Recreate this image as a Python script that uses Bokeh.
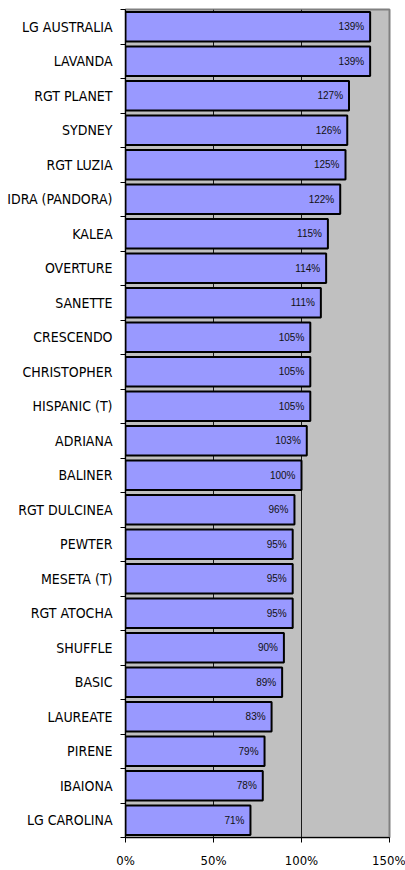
from bokeh.plotting import figure
from bokeh.models import ColumnDataSource, Range1d, FixedTicker, CustomJSTickFormatter, PrintfTickFormatter
from bokeh.core.properties import value
from bokeh.embed import file_html
from bokeh.resources import INLINE

varieties = ["LG AUSTRALIA", "LAVANDA", "RGT PLANET", "SYDNEY", "RGT LUZIA",
             "IDRA (PANDORA)", "KALEA", "OVERTURE", "SANETTE", "CRESCENDO",
             "CHRISTOPHER", "HISPANIC (T)", "ADRIANA", "BALINER", "RGT DULCINEA",
             "PEWTER", "MESETA (T)", "RGT ATOCHA", "SHUFFLE", "BASIC",
             "LAUREATE", "PIRENE", "IBAIONA", "LG CAROLINA"]
yields = [139, 139, 127, 126, 125, 122, 115, 114, 111, 105, 105, 105, 103, 100,
          96, 95, 95, 95, 90, 89, 83, 79, 78, 71]
x_ticks = [0, 50, 100, 150]

n = len(varieties)
ypos = [n - i - 0.5 for i in range(n)]
labels = [f"{v}%" for v in yields]
src = ColumnDataSource(dict(name=varieties, y=ypos, v=yields, lab=labels))

FONT = "DejaVu Sans Condensed, Liberation Sans"

p = figure(width=405, height=870, x_range=Range1d(0, 150), y_range=Range1d(0, n),
           output_backend="svg", toolbar_location=None,
           min_border_left=125, min_border_right=16, min_border_top=9, min_border_bottom=32)
p.border_fill_color = "white"
p.background_fill_color = "#C0C0C0"
p.outline_line_color = "#808080"
p.outline_line_width = 2

p.hbar(y="y", right="v", left=0, height=0.85, fill_color="#9999FF",
       line_color="black", line_width=2, source=src)
p.text(x="v", y="y", text="lab", x_offset=-6, text_align="right", text_baseline="middle",
       text_font=value("Liberation Sans"), text_font_size="10px", text_color="#111111", source=src)

p.ygrid.visible = False
p.xgrid.ticker = FixedTicker(ticks=x_ticks)
p.xgrid.grid_line_color = "#1a1a1a"
p.xgrid.grid_line_width = 1

xa = p.xaxis[0]
xa.ticker = FixedTicker(ticks=x_ticks)
xa.formatter = PrintfTickFormatter(format="%d%%")
xa.major_tick_in = 0
xa.major_tick_out = 5
xa.minor_tick_line_color = None
xa.major_label_standoff = 10
xa.axis_line_color = "black"
xa.major_tick_line_color = "black"
xa.major_label_text_font = FONT
xa.major_label_text_font_size = "13px"
xa.major_label_text_color = "black"

ya = p.yaxis[0]
ya.ticker = FixedTicker(ticks=ypos, minor_ticks=list(range(n + 1)))
ya.formatter = CustomJSTickFormatter(args=dict(names=varieties),
                                     code="return names[names.length - 1 - Math.floor(tick)];")
ya.major_tick_in = 0
ya.major_tick_out = 0
ya.minor_tick_in = 0
ya.minor_tick_out = 5
ya.minor_tick_line_color = "black"
ya.major_label_standoff = 8
ya.axis_line_color = "black"
ya.major_label_text_font = FONT
ya.major_label_text_font_size = "14px"
ya.major_label_text_color = "black"

open("out.html", "w").write(file_html(p, INLINE))
